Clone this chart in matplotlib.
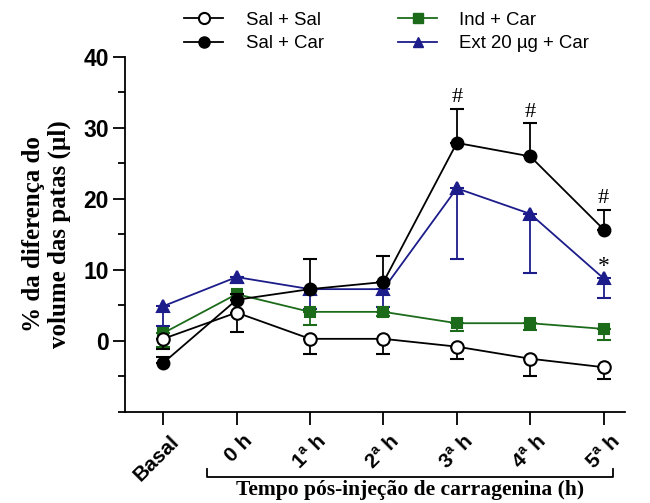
import matplotlib
matplotlib.use("Agg")
import matplotlib.pyplot as plt
import matplotlib.transforms as mtransforms
from matplotlib.lines import Line2D
from matplotlib.ticker import MultipleLocator
import numpy as np

# Time points
categories = ["Basal", "0 h", "1ª h", "2ª h", "3ª h", "4ª h", "5ª h"]

# Paw volume difference (%), mean values
sal_sal = [0.3, 4.0, 0.3, 0.3, -0.8, -2.5, -3.7]
sal_car = [-3.1, 5.8, 7.3, 8.3, 27.9, 26.0, 15.7]
ind_car = [1.1, 6.6, 4.1, 4.1, 2.5, 2.5, 1.7]
ext_car = [4.9, 9.0, 7.3, 7.3, 21.5, 17.9, 8.8]

# One-sided error bars (SEM)
sal_sal_err = [1.5, 2.7, 2.1, 2.1, 1.7, 2.4, 1.7]
sal_car_err = [0.9, 0.8, 4.2, 3.6, 4.8, 4.7, 2.8]
ind_car_err = [2.0, 0.8, 1.9, 0.6, 1.1, 1.0, 1.6]
ext_car_err = [2.8, 0.8, 2.8, 2.5, 10.0, 8.3, 2.8]

labels = ["Sal + Sal", "Sal + Car", "Ind + Car", "Ext 20 µg + Car"]

GREEN = "#1b6b1b"
BLUE = "#1c1c8a"

fig = plt.figure(figsize=(6.5, 5.03), dpi=100)
ax = fig.add_axes([0.1923, 0.181, 0.7692, 0.7057])
x = np.arange(len(categories))


def series(vals, err, up, color, marker, mfc, ms, z):
    zero = np.zeros(len(err))
    yerr = [zero, err] if up else [err, zero]
    ax.errorbar(x, vals, yerr=yerr, color=color, marker=marker, mfc=mfc,
                mec=color, ms=ms, lw=1.3, elinewidth=1.3, capsize=5,
                capthick=1.3, zorder=z, mew=1.5)


series(ext_car, ext_car_err, False, BLUE, "^", BLUE, 8, 2)
series(ind_car, ind_car_err, False, GREEN, "s", GREEN, 7.5, 3)
series(sal_car, sal_car_err, True, "black", "o", "black", 8.5, 4)
series(sal_sal, sal_sal_err, False, "black", "o", "white", 9, 5)

# Significance markers
for i in (4, 5, 6):
    ax.text(x[i], sal_car[i] + sal_car_err[i] + 0.2, "#", ha="center",
            va="bottom", fontsize=16, family="Liberation Serif")
ax.text(x[6], ext_car[6] + 0.2, "*", ha="center", va="bottom",
        fontsize=17, family="Liberation Serif")

ax.set_xlim(-0.52, 6.29)
ax.set_ylim(-10, 40)
ax.spines["top"].set_visible(False)
ax.spines["right"].set_visible(False)
for s in ("left", "bottom"):
    ax.spines[s].set_linewidth(1.3)

ax.set_yticks([0, 10, 20, 30, 40])
ax.yaxis.set_minor_locator(MultipleLocator(5))
ax.tick_params(axis="y", which="major", length=8.5, width=1.3,
               labelsize=16.5, pad=3)
ax.tick_params(axis="y", which="minor", length=5, width=1.3)
for lab in ax.get_yticklabels():
    lab.set_fontweight("bold")
    lab.set_family("Liberation Sans")

ax.set_xticks(x)
ax.set_xticklabels(categories, rotation=45, ha="right", va="top",
                   rotation_mode="anchor", fontsize=15,
                   fontweight="bold", family="Liberation Sans")
ax.tick_params(axis="x", length=9, width=1.3, pad=5)
offset = mtransforms.ScaledTranslation(6 / 100, 0, fig.dpi_scale_trans)
for lab in ax.get_xticklabels():
    lab.set_transform(lab.get_transform() + offset)

ax.set_ylabel("% da diferença do\nvolume das patas (µl)", fontsize=18,
              fontweight="bold", family="Liberation Serif", labelpad=9,
              linespacing=1.15)

# Bracket grouping post-injection time points
bx0, bx1 = 207 / 650, 613 / 650
by, bt = 1 - 477 / 503, 1 - 469 / 503
fig.add_artist(Line2D([bx0, bx0, bx1, bx1], [bt, by, by, bt],
                      transform=fig.transFigure, color="black", lw=1.3))
fig.text((bx0 + bx1) / 2, 1 - 490 / 503,
         "Tempo pós-injeção de carragenina (h)", ha="center", va="center",
         fontsize=15.5, fontweight="bold", family="Liberation Serif")

handles = [
    Line2D([], [], color="black", marker="o", mfc="white", ms=8, lw=1.3, mew=1.5),
    Line2D([], [], color="black", marker="o", mfc="black", ms=8, lw=1.3),
    Line2D([], [], color=GREEN, marker="s", mfc=GREEN, ms=7, lw=1.3),
    Line2D([], [], color=BLUE, marker="^", mfc=BLUE, ms=7, lw=1.3),
]
fig.legend(handles, labels, ncol=2, loc="center", bbox_to_anchor=(0.595, 0.936),
           frameon=False, prop={"family": "Liberation Sans", "size": 13.4},
           handlelength=2.1, columnspacing=4.0, labelspacing=0.35,
           handletextpad=1.2, borderpad=0.2)

fig.savefig("out.png", dpi=100)
